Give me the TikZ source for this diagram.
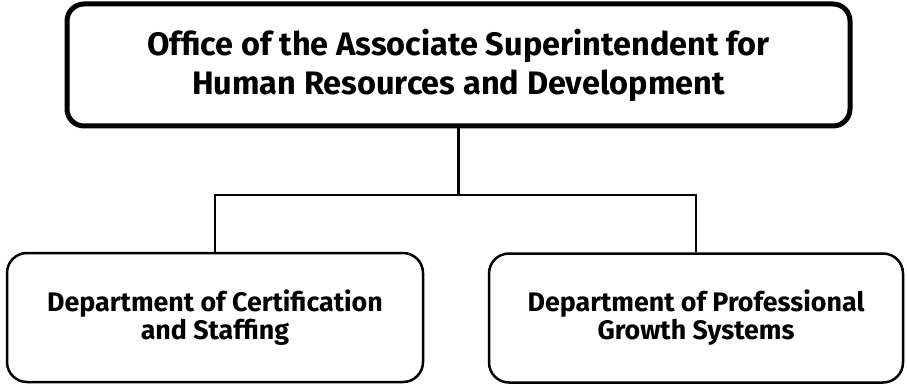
\documentclass[tikz,border=0pt]{standalone}
\usepackage{fontspec}
\setmainfont{Fira Sans}

\begin{document}
\begin{tikzpicture}[
    x=1pt, y=-1pt,
    headbox/.style={draw, line width=5pt, rounded corners=17pt,
                    minimum width=783pt, minimum height=122pt, align=center,
                    font=\fontsize{32.5}{39}\selectfont\bfseries},
    deptbox/.style={draw, line width=2.5pt, rounded corners=20pt,
                    minimum height=129pt, align=center,
                    font=\fontsize{26.8}{28}\selectfont\bfseries},
    link/.style={line width=2.5pt}
]
\useasboundingbox (0,0) rectangle (907,385);

% =========================================================
% TOP: the office
% =========================================================
\node[headbox] (office) at (458.5,65)
      {Office of the Associate Superintendent for\\
       Human Resources and Development};

% =========================================================
% BOTTOM: the two departments
% =========================================================
\node[deptbox, minimum width=416pt] (cert) at (215,317.5)
      {Department of Certification\\ and Staffing};
\node[deptbox, minimum width=414pt] (growth) at (696,318)
      {Department of Professional\\ Growth Systems};

% connectors through the bus line
\coordinate (bus) at (458.5,195);
\draw[link] (office.south) -- (bus);
\draw[link] (cert.north) |- (bus) -| (growth.north);

\end{tikzpicture}
\end{document}
